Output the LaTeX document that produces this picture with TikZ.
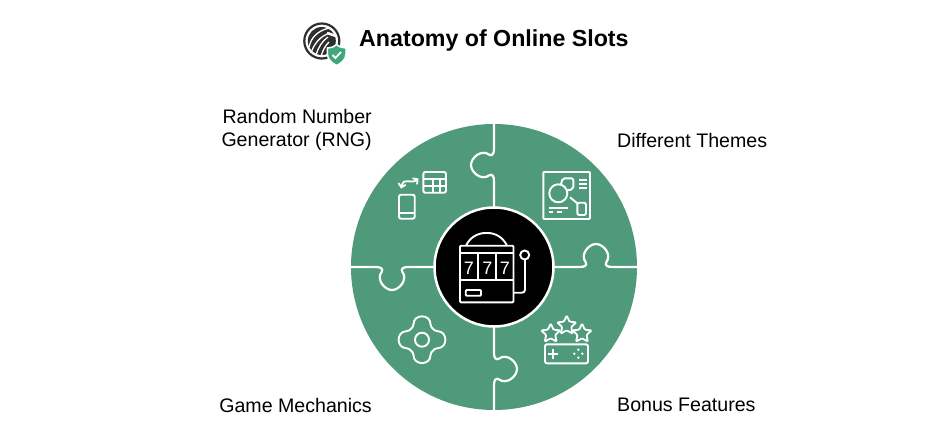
\documentclass[tikz,border=0pt]{standalone}
\usepackage{fontspec}
\setmainfont{Liberation Sans}
\usetikzlibrary{arrows.meta,shapes.geometric}
\definecolor{puzzlegreen}{HTML}{4F9A7B}
\definecolor{shieldgreen}{HTML}{3FA87B}
\definecolor{logodark}{HTML}{2E2E2E}
\tikzset{
  icon/.style={draw=white,line width=1.9pt,rounded corners=1pt},
  seamline/.style={draw=white,line width=2.2pt},
  sidelabel/.style={inner sep=0,font=\fontsize{19.6}{23}\selectfont,align=left,text=black},
  reelseven/.style={inner sep=0,text=white,font=\fontsize{18}{18}\selectfont},
  bonusstar/.style={draw=white,line width=1.8pt,star,star points=5,star point ratio=2.1,minimum size=20pt,inner sep=0,rounded corners=1pt}
}
\begin{document}
\begin{tikzpicture}[x=1pt,y=-1pt,>={Straight Barb[length=3.5pt,width=7.5pt]}]
    \useasboundingbox (0,0) rectangle (930,440);
    % title and logo
    \path (359,40) node [anchor=west,inner sep=0,font=\fontsize{23.2}{28}\selectfont\bfseries](title){Anatomy of Online Slots};
    \path (321.8,41) node [draw=logodark,line width=2.2pt,circle,inner sep=0,minimum size=35pt,fill=white](logoring){};
    \path (321.8,41) node [fill=logodark,circle,inner sep=0,minimum size=28pt](logodisk){};
    \begin{scope}[draw=white,line width=1.3pt]
      \draw (309,47) .. controls (311,38) and (317,31) .. (329,28);
      \draw (311,53) .. controls (314,44) and (320,36) .. (330,33);
      \draw (316,55) .. controls (318,48) and (322,41) .. (328,37);
      \draw (321.5,55) .. controls (323,50) and (325,46) .. (329,42);
      \draw[line width=2.4pt] (327,33) -- (336,36);
    \end{scope}
    \draw[fill=shieldgreen,draw=white,line width=1.5pt] (336.7,44.5) .. controls (339.5,47) and (342.5,48) .. (346,48) -- (346,54) .. controls (346,59) and (342,63) .. (336.7,65.5) .. controls (331.4,63) and (327.4,59) .. (327.4,54) -- (327.4,48) .. controls (331,48) and (334,47) .. (336.7,44.5) -- cycle;
    \draw[draw=white,line width=1.8pt] (332.5,55) -- (335.5,58) -- (341,52);
    % puzzle disc
    \path (494,267) node [fill=puzzlegreen,circle,inner sep=0,minimum size=286pt](disc){};
    \foreach \ang in {0,90,180,270} {
      \begin{scope}[shift={(494,267)},rotate=\ang]
        \draw[seamline] (55,0) -- (86,0) .. controls (91,0) and (93.5,-2) .. (91.6,-5)
          .. controls (86,-12.5) and (94.5,-23) .. (102,-23)
          .. controls (109.5,-23) and (118,-12.5) .. (112.4,-5)
          .. controls (110.5,-2) and (113,0) .. (118,0) -- (144,0);
      \end{scope}
    }
    \path (494,267) node [fill=black,draw=white,line width=2.5pt,circle,inner sep=0,minimum size=119pt](hub){};
    % slot machine
    \draw[icon] (460,245.7) rectangle (513.5,302.3);
    \draw[icon] (460,253) -- (513.5,253);
    \draw[icon] (460,280) -- (513.5,280);
    \draw[icon] (477.7,253) -- (477.7,280);
    \draw[icon] (496,253) -- (496,280);
    \draw[icon] (466,245.7) .. controls (470,237) and (478,233) .. (486.7,233) .. controls (495,233) and (503,237) .. (507,245.7);
    \draw[icon] (465.7,290) rectangle (481,295.7);
    \draw[icon,rounded corners=3pt] (513.5,292.7) -- (525,292.7) -- (525,260);
    \draw[icon] (524.7,255) circle (4.5);
    \path (469,268) node [reelseven](reela){7};
    \path (487.3,268) node [reelseven](reelb){7};
    \path (505,268) node [reelseven](reelc){7};
    % RNG icon
    \draw[icon,rounded corners=2pt] (399,194.7) rectangle (414.7,218.7);
    \draw[icon] (399,212.7) -- (414.7,212.7);
    \draw[icon,rounded corners=2pt] (423.3,172) rectangle (446,192.7);
    \draw[icon] (423.3,179.3) -- (446,179.3);
    \draw[icon] (423.3,186) -- (446,186);
    \draw[icon] (433.3,179.3) -- (433.3,192.7);
    \draw[icon] (440,179.3) -- (440,192.7);
    \draw[<->,draw=white,line width=1.8pt] (401,188.5) .. controls (404,176) and (410,185) .. (418.5,178.5);
    % themes icon
    \draw[icon] (543.3,172) rectangle (590,219);
    \draw[icon] (558.3,193.3) circle (9);
    \draw[icon,rounded corners=2pt] (561,184.5) -- (562.5,178.3) -- (573.3,178.3) -- (573.3,189) -- (567,190.5);
    \draw[icon] (579.3,180) -- (586.7,180);
    \draw[icon] (579.3,184) -- (586.7,184);
    \draw[icon] (579.3,188.3) -- (586.7,188.3);
    \draw[icon] (570,197.3) -- (577.3,203.3);
    \draw[icon,rounded corners=2pt] (577.3,202.7) rectangle (586,215);
    \draw[icon] (549.3,208) -- (568.3,208);
    \draw[icon] (549.3,212) -- (553.3,212);
    \draw[icon] (556.7,212) -- (561.7,212);
    % mechanics icon
    \begin{scope}[shift={(422,339.7)}]
      \draw[icon,rounded corners=0pt] (-11,-11) .. controls (-10,-12) and (-8.5,-13) .. (-8.5,-15.5)
        .. controls (-8.5,-26) and (8.5,-26) .. (8.5,-15.5) .. controls (8.5,-13) and (10,-12) .. (11,-11)
        .. controls (12,-10) and (13,-8.5) .. (15.5,-8.5) .. controls (26,-8.5) and (26,8.5) .. (15.5,8.5)
        .. controls (13,8.5) and (12,10) .. (11,11) .. controls (10,12) and (8.5,13) .. (8.5,15.5)
        .. controls (8.5,26) and (-8.5,26) .. (-8.5,15.5) .. controls (-8.5,13) and (-10,12) .. (-11,11)
        .. controls (-12,10) and (-13,8.5) .. (-15.5,8.5) .. controls (-26,8.5) and (-26,-8.5) .. (-15.5,-8.5)
        .. controls (-13,-8.5) and (-12,-10) .. (-11,-11) -- cycle;
      \draw[icon] (0,0) circle (7);
    \end{scope}
    % bonus icon
    \path (550.7,333.5) node [bonusstar](stara){};
    \path (566.7,325.5) node [bonusstar](starb){};
    \path (582,333.5) node [bonusstar](starc){};
    \draw[icon,rounded corners=2pt] (545,344.3) rectangle (588,363.3);
    \draw[icon] (547.7,354) -- (557.7,354);
    \draw[icon] (552.7,349) -- (552.7,359);
    \foreach \dx/\dy in {0/-4,4/0,0/4,-4/0} {
      \fill[white] (578.3+\dx,353.7+\dy) circle (1.3);
    }
    % labels
    \path (372,129.5) node [sidelabel,anchor=east,align=right](rnglabel){Random Number\\Generator (RNG)};
    \path (617,140) node [sidelabel,anchor=west](themelabel){Different Themes};
    \path (372,405) node [sidelabel,anchor=east](mechlabel){Game Mechanics};
    \path (617,405) node [sidelabel,anchor=west](bonuslabel){Bonus Features};
\end{tikzpicture}
\end{document}
